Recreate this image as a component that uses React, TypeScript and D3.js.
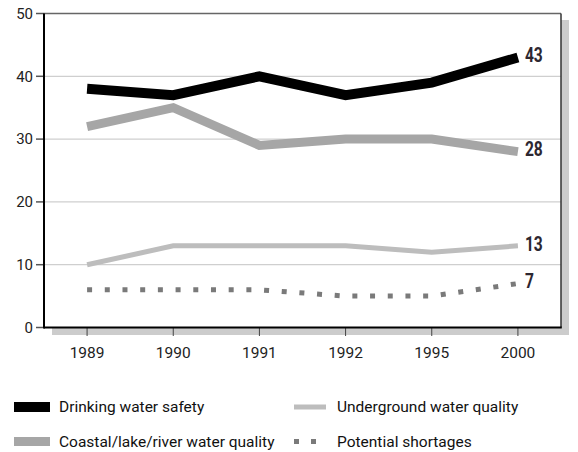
import React from "react";
import * as d3 from "d3";

const years = ["1989", "1990", "1991", "1992", "1995", "2000"];
const drinking = [38, 37, 40, 37, 39, 43];
const coastal = [32, 35, 29, 30, 30, 28];
const underground = [10, 13, 13, 13, 12, 13];
const shortages = [6, 6, 6, 5, 5, 7];
const yTicks = [0, 10, 20, 30, 40, 50];

const W = 578;
const H = 452;
const left = 44;
const right = 561;
const top = 13.5;
const bottom = 327.5;

const FONT = "Roboto, 'Open Sans', sans-serif";
const LABEL_FONT = "Roboto, sans-serif";

export default function App() {
  const x = d3.scalePoint<string>().domain(years).range([left, right]).padding(0.5);
  const y = d3.scaleLinear().domain([0, 50]).range([bottom, top]);
  const line = d3
    .line<number>()
    .x((_, i) => x(years[i]) as number)
    .y((d) => y(d))
    .curve(d3.curveLinear);

  const series = [
    { name: "Drinking water safety", data: drinking, color: "#000", width: 10, dash: undefined as string | undefined },
    { name: "Coastal/lake/river water quality", data: coastal, color: "#a6a6a6", width: 9, dash: undefined },
    { name: "Underground water quality", data: underground, color: "#bdbdbd", width: 5, dash: undefined },
    { name: "Potential shortages", data: shortages, color: "#7a7a7a", width: 5, dash: "5 12.7" },
  ];

  const lastX = x(years[years.length - 1]) as number;

  return (
    <svg
      width={W}
      height={H}
      style={{ position: "absolute", left: 0, top: 0, background: "#fff" }}
    >
      {/* shadow */}
      <rect x={right} y={20} width={8} height={315} fill="#cccccc" />
      <rect x={52} y={bottom} width={right + 8 - 52} height={7.5} fill="#cccccc" />
      <rect x={left} y={top} width={right - left} height={bottom - top} fill="#fff" />

      {/* gridlines */}
      {yTicks.slice(1, -1).map((t) => (
        <line key={t} x1={left} x2={right} y1={y(t)} y2={y(t)} stroke="#cfcfcf" strokeWidth={1.2} />
      ))}
      <line x1={left} x2={right} y1={top} y2={top} stroke="#666" strokeWidth={1.5} />
      <line x1={right} x2={right} y1={top} y2={bottom} stroke="#333" strokeWidth={1.5} />

      {/* y ticks */}
      {yTicks.map((t) => (
        <g key={t}>
          <line x1={36} x2={left} y1={y(t)} y2={y(t)} stroke="#555" strokeWidth={1.5} />
          <text x={33} y={y(t)} dy="0.35em" textAnchor="end" fontFamily={FONT} fontSize={15} fill="#222">
            {t}
          </text>
        </g>
      ))}

      {/* x ticks */}
      {years.map((yr) => (
        <g key={yr}>
          <line x1={x(yr)} x2={x(yr)} y1={bottom} y2={336} stroke="#444" strokeWidth={1} />
          <text x={x(yr)} y={358} textAnchor="middle" fontFamily={FONT} fontSize={15.5} fill="#222">
            {yr}
          </text>
        </g>
      ))}

      {/* axes */}
      <line x1={left} x2={left} y1={top} y2={bottom + 1} stroke="#000" strokeWidth={2} />
      <line x1={left} x2={right + 0.75} y1={bottom} y2={bottom} stroke="#000" strokeWidth={2} />

      {/* series */}
      {series
        .slice()
        .reverse()
        .map((s) => (
          <path
            key={s.name}
            d={line(s.data) as string}
            fill="none"
            stroke={s.color}
            strokeWidth={s.width}
            strokeDasharray={s.dash}
            strokeLinejoin="miter"
            strokeLinecap="butt"
          />
        ))}

      {/* end labels */}
      {series.map((s) => {
        const v = s.data[s.data.length - 1];
        return (
          <text
            key={s.name}
            transform={`translate(${lastX + 7},${y(v) - 2.5}) scale(0.78,1)`}
            dy="0.36em"
            fontFamily={LABEL_FONT}
            fontWeight="bold"
            fontSize={20}
            fill="#2d2730"
          >
            {v}
          </text>
        );
      })}

      {/* legend */}
      <rect x={14} y={402} width={36} height={10} fill="#000" />
      <text x={59} y={412} fontFamily={FONT} fontSize={15.5} fill="#111">Drinking water safety</text>

      <rect x={294} y={404.5} width={32} height={5} fill="#bdbdbd" />
      <text x={337} y={412} fontFamily={FONT} fontSize={15.5} fill="#111">Underground water quality</text>

      <rect x={14} y={437} width={36} height={9} fill="#a6a6a6" />
      <text x={59} y={447} fontFamily={FONT} fontSize={15.5} fill="#111">Coastal/lake/river water quality</text>

      <rect x={294} y={439} width={5} height={5} fill="#7a7a7a" />
      <rect x={311} y={439} width={5} height={5} fill="#7a7a7a" />
      <text x={337} y={447} fontFamily={FONT} fontSize={15.5} fill="#111">Potential shortages</text>
    </svg>
  );
}
